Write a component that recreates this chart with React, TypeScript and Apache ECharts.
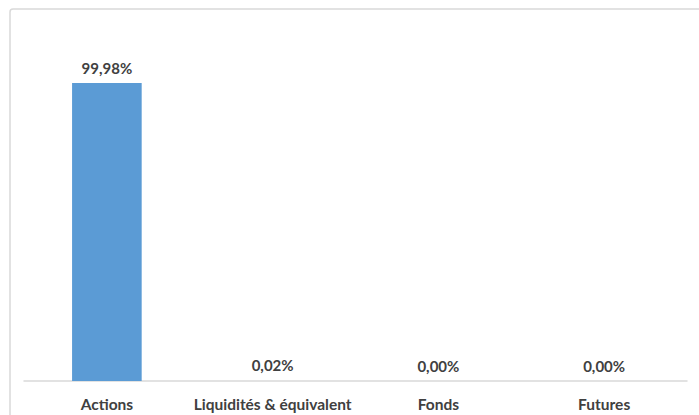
import React, { useEffect, useRef } from "react";
import * as echarts from "echarts";

const categories = ["Actions", "Liquidités & équivalent", "Fonds", "Futures"];
const values = [99.98, 0.02, 0.0, 0.0];

export default function App() {
  const ref = useRef<HTMLDivElement>(null);
  useEffect(() => {
    if (!ref.current) return;
    const chart = echarts.init(ref.current, null, { renderer: "svg" });
    chart.setOption({
      animation: false,
      graphic: [
        {
          type: "rect",
          shape: { x: 10, y: 9, width: 720, height: 430, r: 3 },
          style: { fill: "none", stroke: "#d9d9d9", lineWidth: 1.5 },
          silent: true,
        },
      ],
      grid: { left: 24, right: 12, top: 83, bottom: 34 },
      xAxis: {
        type: "category",
        data: categories,
        axisLine: { lineStyle: { color: "#d9d9d9", width: 1.5 } },
        axisTick: { show: false },
        axisLabel: {
          interval: 0,
          color: "#404040",
          fontFamily: "Lato",
          fontWeight: "bold",
          fontSize: 15.5,
          margin: 15,
        },
      },
      yAxis: {
        type: "value",
        min: 0,
        max: 100,
        show: false,
        splitLine: { show: false },
      },
      series: [
        {
          type: "bar",
          data: values,
          barWidth: "42%",
          itemStyle: { color: "#5b9bd5" },
          label: {
            show: true,
            position: "top",
            distance: 8,
            color: "#404040",
            fontFamily: "Lato",
            fontWeight: "bold",
            fontSize: 15,
            formatter: (p: any) => p.value.toFixed(2).replace(".", ",") + "%",
          },
        },
      ],
    });
    return () => chart.dispose();
  }, []);
  return (
    <div
      ref={ref}
      style={{ position: "fixed", left: 0, top: 0, width: 699, height: 415, background: "#fff" }}
    />
  );
}
